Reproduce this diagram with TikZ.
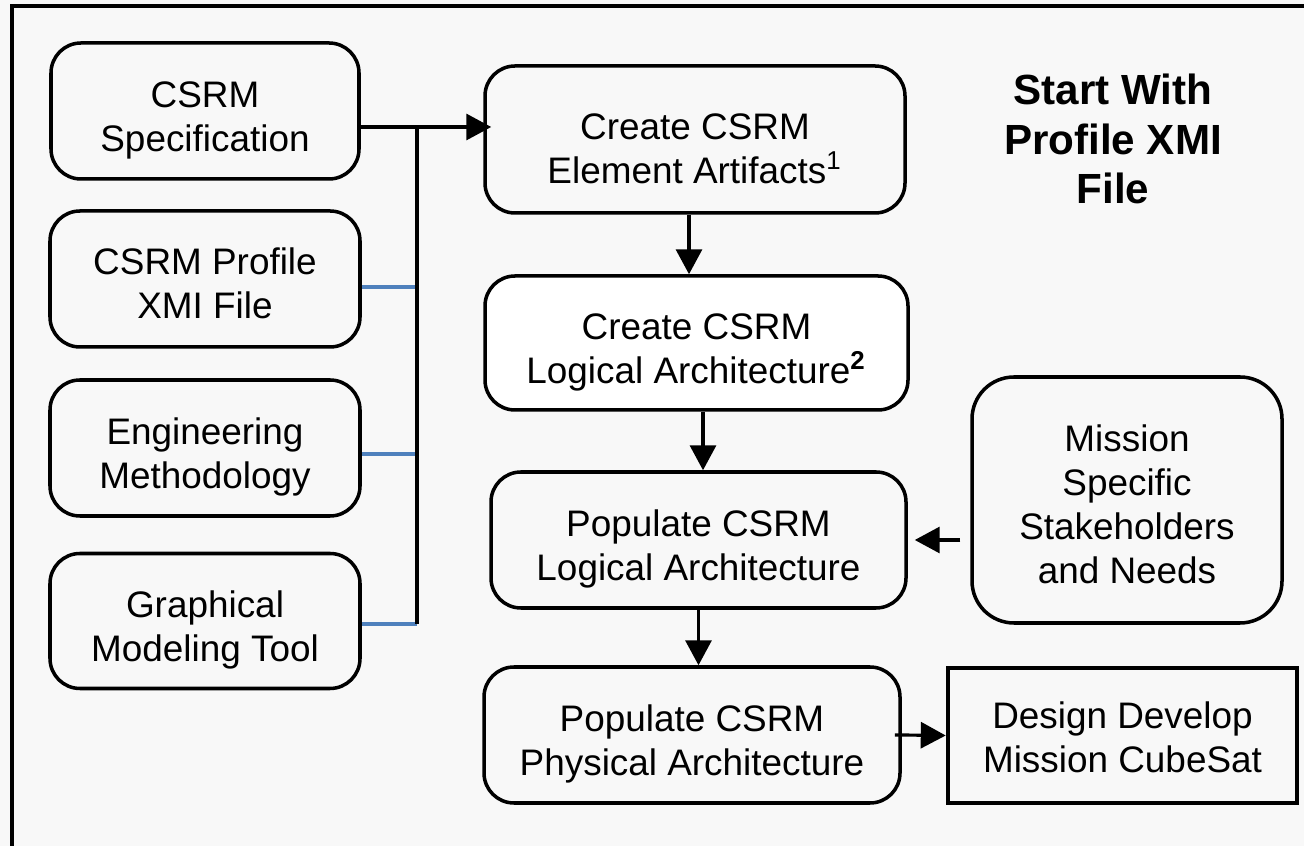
\documentclass[tikz,border=0pt]{standalone}
\usepackage{fontspec}
\setmainfont{Liberation Sans}
\usepackage{tikz}
\usetikzlibrary{arrows.meta, positioning}

\definecolor{bggrey}{RGB}{248,248,248}
\definecolor{linkblue}{RGB}{79,129,189}
\newcommand{\topgap}[1][12.5pt]{\rule{0pt}{#1}}

\begin{document}
\begin{tikzpicture}[x=0.1mm, y=-0.1mm,
	box/.style={shape=rectangle, rounded corners=3mm, draw=black, line width=1pt, fill=bggrey,
		align=center, inner sep=0pt, font=\fontsize{10.5}{12.5}\selectfont},
	flow/.style={-{Triangle[length=7.1pt,width=7.4pt]}, line width=0.9pt},
	link/.style={draw=linkblue, line width=0.9pt}]
	\path[fill=bggrey, use as bounding box] (0,0) rectangle (1304,846);
	\draw[line width=1.2pt] (12,846) -- (12,6) -- (1304,6);
	
	% inputs on the left
	\node[box, minimum width=30.8mm, minimum height=13.6mm] (spec) at (205,111) {\topgap CSRM\\Specification};
	\node[box, minimum width=31mm, minimum height=13.6mm] (profile) at (205,279) {\topgap[10pt]CSRM Profile\\XMI File};
	\node[box, minimum width=31mm, minimum height=13.6mm] (method) at (205,448) {\topgap Engineering\\Methodology};
	\node[box, minimum width=31mm, minimum height=13.5mm] (gmt) at (205,621) {\topgap Graphical\\Modeling Tool};
	
	% main steps
	\node[box, minimum width=42mm, minimum height=14.7mm] (elem) at (695,139.5) {\topgap Create CSRM\\Element Artifacts\textsuperscript{1}};
	\node[box, fill=white, minimum width=42.3mm, minimum height=13.4mm] (clog) at (696.5,343) {\topgap Create CSRM\\Logical Architecture\textsuperscript{\bfseries 2}};
	\node[box, minimum width=41.5mm, minimum height=13.6mm] (plog) at (698.5,540) {\topgap Populate CSRM\\Logical Architecture};
	\node[box, minimum width=41.6mm, minimum height=13.6mm] (pphys) at (692,735) {\topgap Populate CSRM\\Physical Architecture};
	
	\node[box, rounded corners=4.2mm, minimum width=31mm, minimum height=24.6mm] (mission) at (1127,500) {\topgap[10pt]Mission\\Specific\\Stakeholders\\and Needs};
	\node[box, rounded corners=0pt, line width=1.3pt, minimum width=34.9mm, minimum height=13.5mm] (design) at (1122.5,735.5) {\topgap[8.5pt]Design Develop\\Mission CubeSat};
	
	\node[align=center, font=\bfseries\fontsize{12}{14}\selectfont] (title) at (1113,139) {Start With\\Profile XMI\\File};
	
	% bus from the inputs
	\coordinate (junction) at (417,127);
	\coordinate (b1) at (417,287);
	\coordinate (b2) at (417,454);
	\coordinate (b3) at (417,624);
	\draw[link] (profile.east |- b1) -- (b1);
	\draw[link] (method.east |- b2) -- (b2);
	\draw[link] (gmt.east |- b3) -- (b3);
	\draw[line width=0.9pt] (junction) -- (b3);
	\draw[flow, shorten >=-0.8mm] (spec.east |- junction) -- (elem.west |- junction);
	
	\draw[flow] (elem.south -| 689,0) -- (clog.north -| 689,0);
	\draw[flow] (clog.south -| 703,0) -- (plog.north -| 703,0);
	\draw[flow] (plog.south) -- (plog.south |- pphys.north);
	\draw[flow, shorten <=1mm, shorten >=0.7mm] (mission.west |- plog.east) -- (plog.east);
	\draw[flow, shorten <=-0.7mm] (pphys.east) -- (design.west);
\end{tikzpicture}
\end{document}
